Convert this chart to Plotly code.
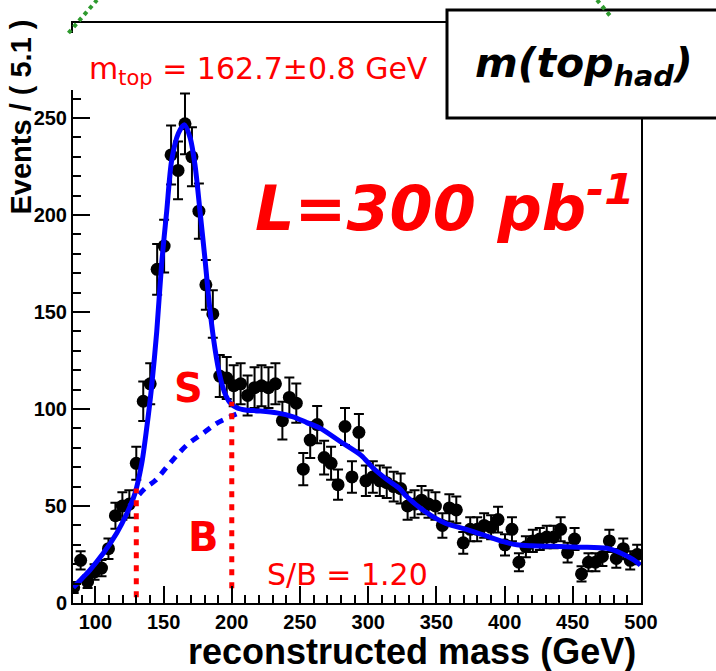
import plotly.graph_objects as go

# ---------------- data ----------------
mass_bins = [84.1, 89.2, 94.3, 99.4, 104.5, 109.6, 114.7, 119.8, 124.9, 130.0,
             135.1, 140.2, 145.3, 150.4, 155.5, 160.6, 165.7, 170.8, 175.9, 181.0,
             186.1, 191.2, 196.3, 201.4, 206.5, 211.6, 216.7, 221.8, 226.9, 232.0,
             237.1, 242.2, 247.3, 252.4, 257.5, 262.6, 267.7, 272.8, 277.9, 283.0,
             288.1, 293.2, 298.3, 303.4, 308.5, 313.6, 318.7, 323.8, 328.9, 334.0,
             339.1, 344.2, 349.3, 354.4, 359.5, 364.6, 369.7, 374.8, 379.9, 385.0,
             390.1, 395.2, 400.3, 405.4, 410.5, 415.6, 420.7, 425.8, 430.9, 436.0,
             441.1, 446.2, 451.3, 456.4, 461.5, 466.6, 471.7, 476.8, 481.9, 487.0,
             492.1, 497.2]
events = [8, 22, 11, 16, 18, 28, 45, 50, 51, 72,
          104, 113, 172, 184, 231, 223, 247, 230, 202, 164,
          149, 117, 116, 112, 113, 107, 111, 112, 111, 113,
          94, 106, 103, 69, 84, 92, 75, 72, 61, 91,
          65, 88, 63, 65, 63, 62, 60, 59, 50, 51,
          53, 51, 50, 40, 49, 48, 31, 38, 38, 40,
          39, 43, 30, 38, 21, 29, 32, 33, 34, 34,
          38, 26, 33, 15, 21, 21, 24, 32, 23, 28,
          22, 25]
event_errors = [2.8, 4.7, 3.3, 4.0, 4.2, 5.3, 6.7, 7.1, 7.1, 8.5,
                10.2, 10.6, 13.1, 13.6, 15.2, 14.9, 15.7, 15.2, 14.2, 12.8,
                12.2, 10.8, 10.8, 10.6, 10.6, 10.3, 10.5, 10.6, 10.5, 10.6,
                9.7, 10.3, 10.1, 8.3, 9.2, 9.6, 8.7, 8.5, 7.8, 9.5,
                8.1, 9.4, 7.9, 8.1, 7.9, 7.9, 7.7, 7.7, 7.1, 7.1,
                7.3, 7.1, 7.1, 6.3, 7.0, 6.9, 5.6, 6.2, 6.2, 6.3,
                6.2, 6.6, 5.5, 6.2, 4.6, 5.4, 5.7, 5.7, 5.8, 5.8,
                6.2, 5.1, 5.7, 3.9, 4.6, 4.6, 4.9, 5.7, 4.8, 5.3,
                4.7, 5.0]

fit_mass = [83.8, 90, 96, 105.8, 115.6, 123, 129, 134, 137.6, 141, 145,
            148.6, 152.3, 155.9, 160.8, 165.2, 169.4, 173, 176.7, 180.4,
            184, 187.7, 191.3, 195, 199, 204, 210, 220, 233, 245, 255,
            265, 280, 295, 303, 314, 323, 328, 343, 357, 372, 387, 399,
            409, 420, 435, 455, 475, 485, 494, 499.5]
fit_total = [8, 12.5, 17, 25.6, 36, 46, 56.5, 72, 90, 110, 140,
             175, 202, 228, 242, 246.5, 240, 226, 202, 177,
             151, 131, 117, 108, 103, 100.5, 99.5, 99, 98, 96, 93,
             90, 83, 76, 70, 63.5, 59, 55, 46.5, 41, 38, 34.5, 31.6,
             30, 29.5, 29.2, 28.8, 28.2, 25.8, 22.5, 19.6]

bkg_mass = [125, 131.5, 137, 143.7, 152.3, 159.6, 168, 179, 188.6, 198.7, 207]
bkg_fit = [50, 55.5, 59.5, 63, 70, 76, 82, 87.5, 92.5, 96, 98.5]

window_mass = [130, 200]          # S/B counting window
window_low = [3, 7.6]
window_high = [59, 103.8]

x_ticks = [100, 150, 200, 250, 300, 350, 400, 450, 500]
y_ticks = [0, 50, 100, 150, 200, 250]

# ---------------- layout geometry ----------------
W, H = 716, 671
L_PX, R_PX, T_PX, B_PX = 73, 641, 23, 603


def px(xp):
    return (xp - L_PX) / (R_PX - L_PX)


def py(yp):
    return (B_PX - yp) / (B_PX - T_PX)


RED = "#ff0000"
BLUE = "#0000ff"

fig = go.Figure()

# data points
fig.add_trace(go.Scatter(
    x=mass_bins, y=events, mode="markers",
    marker=dict(color="black", size=13, symbol="circle"),
    error_y=dict(type="data", array=event_errors, color="black",
                 thickness=2, width=5),
    showlegend=False, hoverinfo="skip"))

# background fit (dashed)
fig.add_trace(go.Scatter(
    x=bkg_mass, y=bkg_fit, mode="lines",
    line=dict(color=BLUE, width=5, dash="8px,7px", shape="spline"),
    showlegend=False, hoverinfo="skip"))

# total fit
fig.add_trace(go.Scatter(
    x=fit_mass, y=fit_total, mode="lines",
    line=dict(color=BLUE, width=5, shape="spline", smoothing=0.8),
    showlegend=False, hoverinfo="skip"))

# red dotted window lines
for xm, ylo, yhi in zip(window_mass, window_low, window_high):
    fig.add_trace(go.Scatter(
        x=[xm, xm], y=[ylo, yhi], mode="lines",
        line=dict(color=RED, width=5, dash="6px,7px"),
        showlegend=False, hoverinfo="skip"))

tickfont = dict(family="Liberation Sans", size=20, color="black", weight="bold")

fig.update_layout(
    width=W, height=H, autosize=False,
    margin=dict(l=L_PX, r=W - R_PX, t=T_PX, b=H - B_PX, pad=0),
    paper_bgcolor="white", plot_bgcolor="white",
    showlegend=False,
    xaxis=dict(range=[83.6, 500], tickvals=x_ticks, ticktext=[str(v) for v in x_ticks],
               ticks="inside", ticklen=17, tickwidth=2, tickcolor="black",
               showline=True, linecolor="black", linewidth=2, mirror=True,
               showgrid=False, zeroline=False, tickfont=tickfont,
               minor=dict(dtick=10, tick0=0, ticks="inside", ticklen=8,
                          tickwidth=2, tickcolor="black", showgrid=False)),
    yaxis=dict(range=[0, 299], tickvals=y_ticks, ticktext=[str(v) for v in y_ticks],
               ticks="inside", ticklen=17, tickwidth=2, tickcolor="black",
               showline=True, linecolor="black", linewidth=2, mirror=True,
               showgrid=False, zeroline=False, tickfont=tickfont,
               minor=dict(dtick=10, tick0=0, ticks="inside", ticklen=8,
                          tickwidth=2, tickcolor="black", showgrid=False)),
)

shapes = [
    # white label background covering the top-left frame
    dict(type="rect", xref="paper", yref="paper", layer="above",
         x0=px(40), x1=px(447), y0=py(90), y1=py(33),
         fillcolor="white", line=dict(width=0)),
    # m(top_had) box
    dict(type="rect", xref="paper", yref="paper", layer="above",
         x0=px(447), x1=px(722), y0=py(118), y1=py(10),
         fillcolor="white", line=dict(color="black", width=3)),
    # green dotted decoration
    dict(type="line", xref="paper", yref="paper", layer="above",
         x0=px(68.5), y0=py(33), x1=px(97), y1=py(0),
         line=dict(color="#2e9a2e", width=4, dash="dot")),
    dict(type="line", xref="paper", yref="paper", layer="above",
         x0=px(597), y0=py(0), x1=px(612), y1=py(18),
         line=dict(color="#2e9a2e", width=4, dash="dot")),
]
fig.update_layout(shapes=shapes)

ann = [
    dict(text="m<sub>top</sub> = 162.7±0.8 GeV", xref="paper", yref="paper",
         x=px(87), y=py(70), xanchor="left", yanchor="middle", showarrow=False,
         font=dict(family="DejaVu Sans", size=30, color=RED)),
    dict(text="<b><i>m(top<sub>had</sub>)</i></b>", xref="paper", yref="paper",
         x=px(584), y=py(66), xanchor="center", yanchor="middle", showarrow=False,
         font=dict(family="DejaVu Sans", size=41, color="black")),
    dict(text="<b><i>L=300 pb<sup>-1</sup></i></b>", xref="paper", yref="paper",
         x=px(253), y=py(205), xanchor="left", yanchor="middle", showarrow=False,
         font=dict(family="DejaVu Sans", size=62, color=RED)),
    dict(text="<b>S</b>", xref="paper", yref="paper",
         x=px(188), y=py(388), xanchor="center", yanchor="middle", showarrow=False,
         font=dict(family="DejaVu Sans", size=40, color=RED)),
    dict(text="<b>B</b>", xref="paper", yref="paper",
         x=px(203), y=py(537), xanchor="center", yanchor="middle", showarrow=False,
         font=dict(family="DejaVu Sans", size=40, color=RED)),
    dict(text="S/B = 1.20", xref="paper", yref="paper",
         x=px(265), y=py(574), xanchor="left", yanchor="middle", showarrow=False,
         font=dict(family="DejaVu Sans", size=30, color=RED)),
    dict(text="<b>Events / ( 5.1 )</b>", xref="paper", yref="paper",
         x=px(20), y=py(18), xanchor="center", yanchor="top", textangle=-90,
         showarrow=False,
         font=dict(family="Liberation Sans", size=29, color="black")),
    dict(text="<b>reconstructed mass (GeV)</b>", xref="paper", yref="paper",
         x=px(638), y=py(651), xanchor="right", yanchor="middle", showarrow=False,
         font=dict(family="Liberation Sans", size=36, color="black")),
]
fig.update_layout(annotations=ann)

fig.write_html("out.html")
